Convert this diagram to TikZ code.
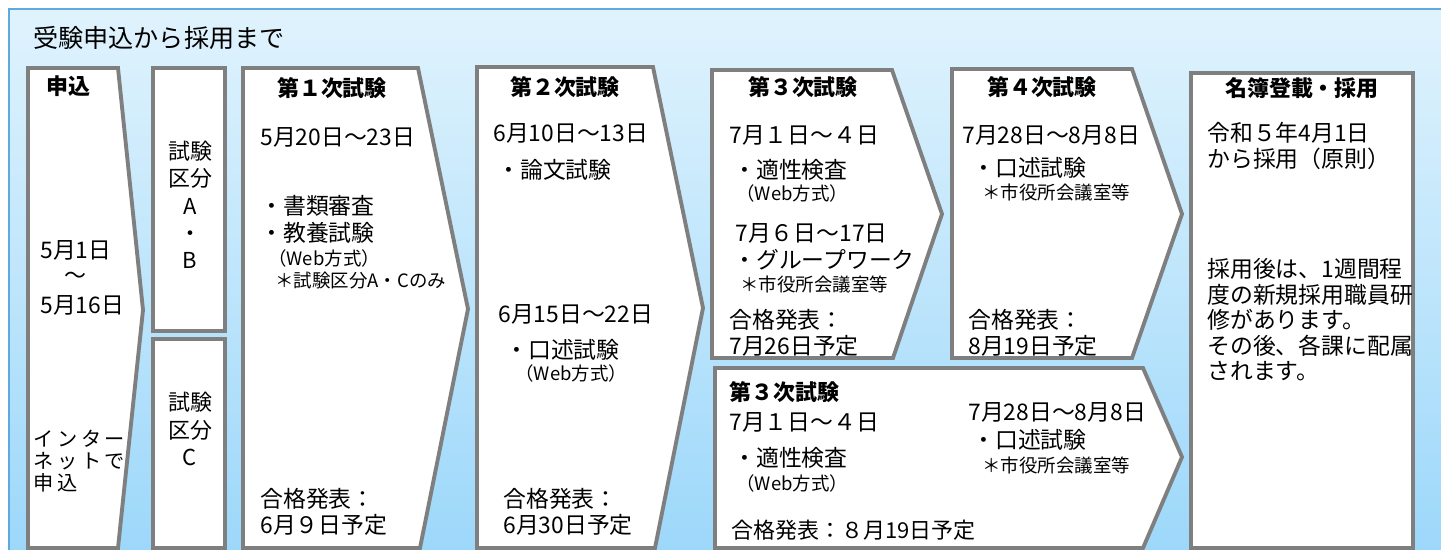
\documentclass[tikz,border=0pt]{standalone}
\usepackage{fontspec}
\setmainfont{Noto Sans CJK JP}
\usetikzlibrary{positioning}
\definecolor{framegray}{HTML}{7F7F7F}
\definecolor{skytop}{HTML}{E0F3FD}
\definecolor{skybottom}{HTML}{99D6FA}
\definecolor{skyline}{HTML}{5DA9E1}
\begin{document}
\begin{tikzpicture}[x=0.02cm, y=-0.02cm,
stage/.style={draw=framegray, fill=white, line width=2.2pt, line join=miter},
txt/.style={anchor=west, inner sep=0pt, align=left, font=\fontsize{13}{14.5}\selectfont},
small/.style={anchor=west, inner sep=0pt, align=left, font=\fontsize{10.5}{13}\selectfont},
head/.style={inner sep=0pt, font=\fontsize{12.5}{15}\selectfont\bfseries},
mid/.style={inner sep=0pt, align=center, font=\fontsize{12.5}{15.5}\selectfont}
]
\useasboundingbox (0,0) rectangle (1441,550);
%Background
\path[draw=skyline, line width=1pt, top color=skytop, bottom color=skybottom] (9,9) rectangle (1470,580);
\node[anchor=west, inner sep=0pt, font=\fontsize{14.3}{16}\selectfont] (title) at (33,38) {受験申込から採用まで};
%Shapes
\draw[stage] (28,68) -- (118,68) -- (143,310) -- (118,548) -- (28,548) -- cycle;
\draw[stage] (153,68) rectangle (225,331);
\draw[stage] (153,339) rectangle (225,548);
\draw[stage] (243,68) -- (418,68) -- (468,309) -- (420,548) -- (243,548) -- cycle;
\draw[stage] (477,67) -- (653,67) -- (703,308) -- (655,548) -- (477,548) -- cycle;
\draw[stage] (712,70) -- (892,70) -- (942,214) -- (893,358) -- (712,358) -- cycle;
\draw[stage] (952,69) -- (1132,69) -- (1182,214) -- (1132,358) -- (952,358) -- cycle;
\draw[stage] (715,368) -- (1143,368) -- (1182,457) -- (1143,548) -- (715,548) -- cycle;
\draw[stage] (1191,73) rectangle (1413,548);
%Apply
\node[head, anchor=west] (applyhead) at (46,86) {申込};
\node[txt] (applyfrom) at (40,250) {5月1日};
\node[mid] (applytilde) at (75,278) {～};
\node[txt] (applyto) at (40,305) {5月16日};
\node[txt, font=\fontsize{11.5}{12.6}\selectfont\addfontfeatures{LetterSpace=18}] (applyweb) at (33,461) {インター\\ネットで\\申込};
%Categories
\node[mid] (catab) at (190,205) {試験\\区分\\A\\・\\B};
\node[mid] (catc) at (190,429) {試験\\区分\\C};
%Stage 1
\node[head] (s1head) at (332,88) {第１次試験};
\node[txt] (s1date) at (260,137) {5月20日～23日};
\node[txt] (s1a) at (260,206) {・書類審査};
\node[txt] (s1b) at (260,233) {・教養試験};
\node[small] (s1c) at (268,258) {（Web方式）};
\node[small] (s1d) at (275,281) {＊試験区分A・Cのみ};
\node[txt] (s1pass) at (260,512) {合格発表：\\6月９日予定};
%Stage 2
\node[head] (s2head) at (565,87) {第２次試験};
\node[txt] (s2date) at (493,133) {6月10日～13日};
\node[txt] (s2a) at (497,170) {・論文試験};
\node[txt] (s2date2) at (498,314) {6月15日～22日};
\node[txt] (s2b) at (505,350) {・口述試験};
\node[small] (s2c) at (515,373) {（Web方式）};
\node[txt] (s2pass) at (503,512) {合格発表：\\ 6月30日予定};
%Stage 3 (A, B)
\node[head] (s3head) at (803,87) {第３次試験};
\node[txt] (s3date) at (729,135) {7月１日～４日};
\node[txt] (s3a) at (733,170) {・適性検査};
\node[small] (s3b) at (736,193) {（Web方式）};
\node[txt] (s3date2) at (735,233) {7月６日～17日};
\node[txt] (s3c) at (733,260) {・グループワーク};
\node[small] (s3d) at (740,285) {＊市役所会議室等};
\node[txt] (s3pass) at (729,333) {合格発表：\\7月26日予定};
%Stage 4
\node[head] (s4head) at (1042,87) {第４次試験};
\node[txt] (s4date) at (962,135) {7月28日～8月8日};
\node[txt] (s4a) at (972,168) {・口述試験};
\node[small] (s4b) at (982,193) {＊市役所会議室等};
\node[txt] (s4pass) at (968,333) {合格発表：\\8月19日予定};
%Stage 3 (C)
\node[head, anchor=west] (cthead) at (729,392) {第３次試験};
\node[txt] (ctdate) at (729,422) {7月１日～４日};
\node[txt] (cta) at (733,458) {・適性検査};
\node[small] (ctb) at (736,483) {（Web方式）};
\node[txt, font=\fontsize{12.5}{14.5}\selectfont] (ctpass) at (731,530) {合格発表：８月19日予定};
\node[txt] (ctdate2) at (968,412) {7月28日～8月8日};
\node[txt] (ctc) at (972,440) {・口述試験};
\node[small] (ctd) at (982,466) {＊市役所会議室等};
%Register
\node[head] (reghead) at (1302,88) {名簿登載・採用};
\node[txt] (regdate) at (1207,146) {令和５年4月1日\\から採用（原則）};
\node[txt] (regnote) at (1207,320) {採用後は、1週間程\\度の新規採用職員研\\修があります。\\その後、各課に配属\\されます。};
\end{tikzpicture}
\end{document}
